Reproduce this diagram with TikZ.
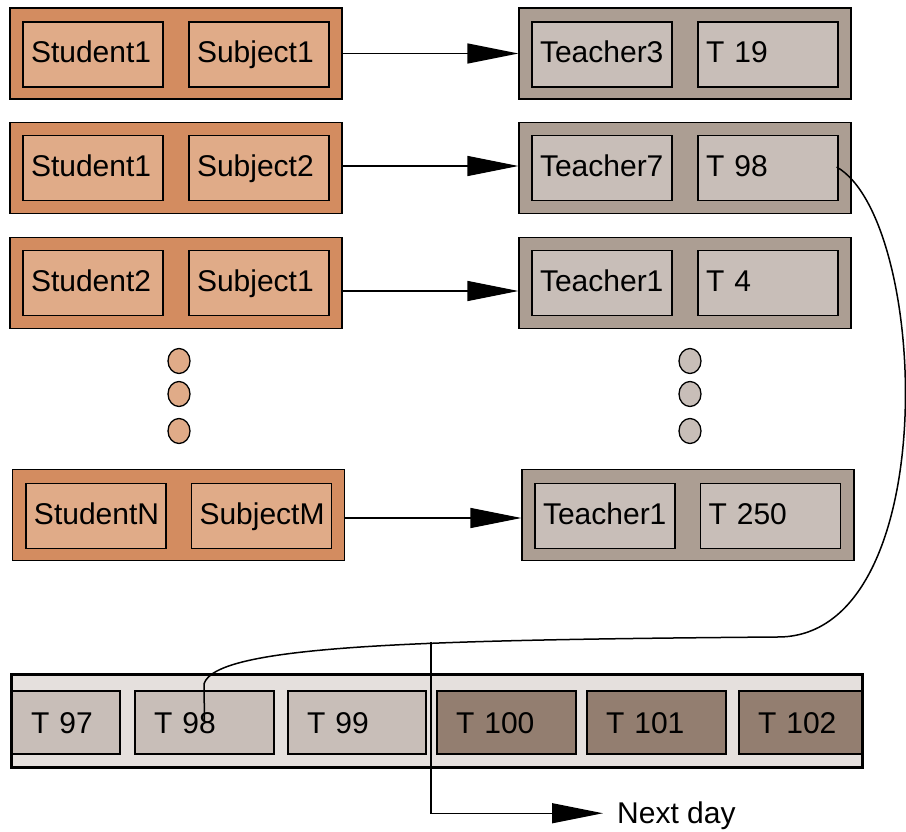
\documentclass[tikz,border=0pt]{standalone}
\usepackage{fontspec}
\setmainfont{Liberation Sans}
\usetikzlibrary{arrows.meta}
\definecolor{stuout}{RGB}{211,140,96}
\definecolor{stuin}{RGB}{224,171,136}
\definecolor{teaout}{RGB}{172,158,147}
\definecolor{teain}{RGB}{200,190,184}
\definecolor{daybar}{RGB}{229,224,221}
\definecolor{dayold}{RGB}{200,190,184}
\definecolor{daynew}{RGB}{147,126,112}
\begin{document}
\begin{tikzpicture}[x=1pt,y=-1pt,
    outerbox/.style={draw,line width=1.3pt,minimum width=332pt,minimum height=91pt},
    innerbox/.style={draw,line width=1.3pt,minimum width=140pt,minimum height=65pt,
        inner xsep=8pt,text width=124pt,text height=22pt,text depth=5pt,
        align=left,font=\fontsize{30}{36}\selectfont},
    dot/.style={draw,line width=1.3pt},
    daycell/.style={draw,line width=1.3pt,minimum height=63pt,inner xsep=19pt,
        text height=24pt,text depth=3pt,align=left,font=\fontsize{30}{36}\selectfont},
    arr/.style={line width=1.3pt,-{Triangle[length=51pt,width=20pt]}}]
    \useasboundingbox (0,0) rectangle (906,832);
    % students / subjects
    \node[outerbox,fill=stuout](l1) at (176,53.5){};
    \node[innerbox,fill=stuin](s1) at (93,54.5){Student1};
    \node[innerbox,fill=stuin](j1) at (259,54.5){Subject1};
    \node[outerbox,fill=stuout](l2) at (176,168){};
    \node[innerbox,fill=stuin](s2) at (93,168){Student1};
    \node[innerbox,fill=stuin](j2) at (259,168){Subject2};
    \node[outerbox,fill=stuout](l3) at (176,283){};
    \node[innerbox,fill=stuin](s3) at (93,283){Student2};
    \node[innerbox,fill=stuin](j3) at (259,283){Subject1};
    \node[outerbox,fill=stuout](ln) at (178.5,515){};
    \node[innerbox,fill=stuin](sn) at (96,516){StudentN};
    \node[innerbox,fill=stuin](jn) at (261.5,516){SubjectM};
    % teachers / times
    \node[outerbox,fill=teaout](r1) at (685,53.5){};
    \node[innerbox,fill=teain](te1) at (602,54.5){Teacher3};
    \node[innerbox,fill=teain](tt1) at (768,54.5){T 19};
    \node[outerbox,fill=teaout](r2) at (685,168){};
    \node[innerbox,fill=teain](te2) at (602,168){Teacher7};
    \node[innerbox,fill=teain](tt2) at (768,168){T 98};
    \node[outerbox,fill=teaout](r3) at (685,283){};
    \node[innerbox,fill=teain](te3) at (602,283){Teacher1};
    \node[innerbox,fill=teain](tt3) at (768,283){T 4};
    \node[outerbox,fill=teaout](rn) at (688,515){};
    \node[innerbox,fill=teain](ten) at (605,516){Teacher1};
    \node[innerbox,fill=teain](ttn) at (770.5,516){T 250};
    % dots
    \foreach \y in {361,394,431}{
        \draw[dot,fill=stuin] (179,\y) ellipse [x radius=11,y radius=12.5];
        \draw[dot,fill=teain] (690,\y) ellipse [x radius=11,y radius=12.5];
    }
    \draw[arr] (l1.east) -- (r1.west);
    \draw[arr] ([yshift=2pt]l2.east) -- ([yshift=2pt]r2.west);
    \draw[arr] ([yshift=-8pt]l3.east) -- ([yshift=-8pt]r3.west);
    \draw[arr] ([yshift=-3pt]ln.east) -- ([yshift=-3pt]rn.west);
    % the day
    \node[fill=daybar,minimum width=850pt,minimum height=92pt](bar) at (437,721){};
    \node[daycell,fill=dayold,minimum width=108pt,text width=70pt](d97) at (66,722.5){T 97};
    \node[daycell,fill=dayold,minimum width=139pt,text width=101pt](d98) at (204.5,722.5){T 98};
    \node[daycell,fill=dayold,minimum width=138pt,text width=100pt](d99) at (357,722.5){T 99};
    \node[daycell,fill=daynew,minimum width=139pt,text width=101pt](d100) at (506.5,722.5){T 100};
    \node[daycell,fill=daynew,minimum width=139pt,text width=101pt](d101) at (656.5,722.5){T 101};
    \node[daycell,fill=daynew,minimum width=123pt,text width=85pt](d102) at (800.5,722.5){T 102};
    \draw[line width=3pt] (bar.north west) rectangle (bar.south east);
    \draw[line width=1.5pt] ([xshift=-2pt,yshift=1pt]tt2.east) .. controls (930,220) and (945,640) .. (776,637)
        .. controls (420,640) and (215,645) .. (204,684) -- (d98.center);
    \coordinate (nd) at (431,642);
    \node[anchor=base west,inner sep=0pt,font=\fontsize{30}{36}\selectfont](nday) at (617,823){Next day};
    \draw[arr] (nd) |- ([xshift=-14pt,yshift=2pt]nday.west);
\end{tikzpicture}
\end{document}
